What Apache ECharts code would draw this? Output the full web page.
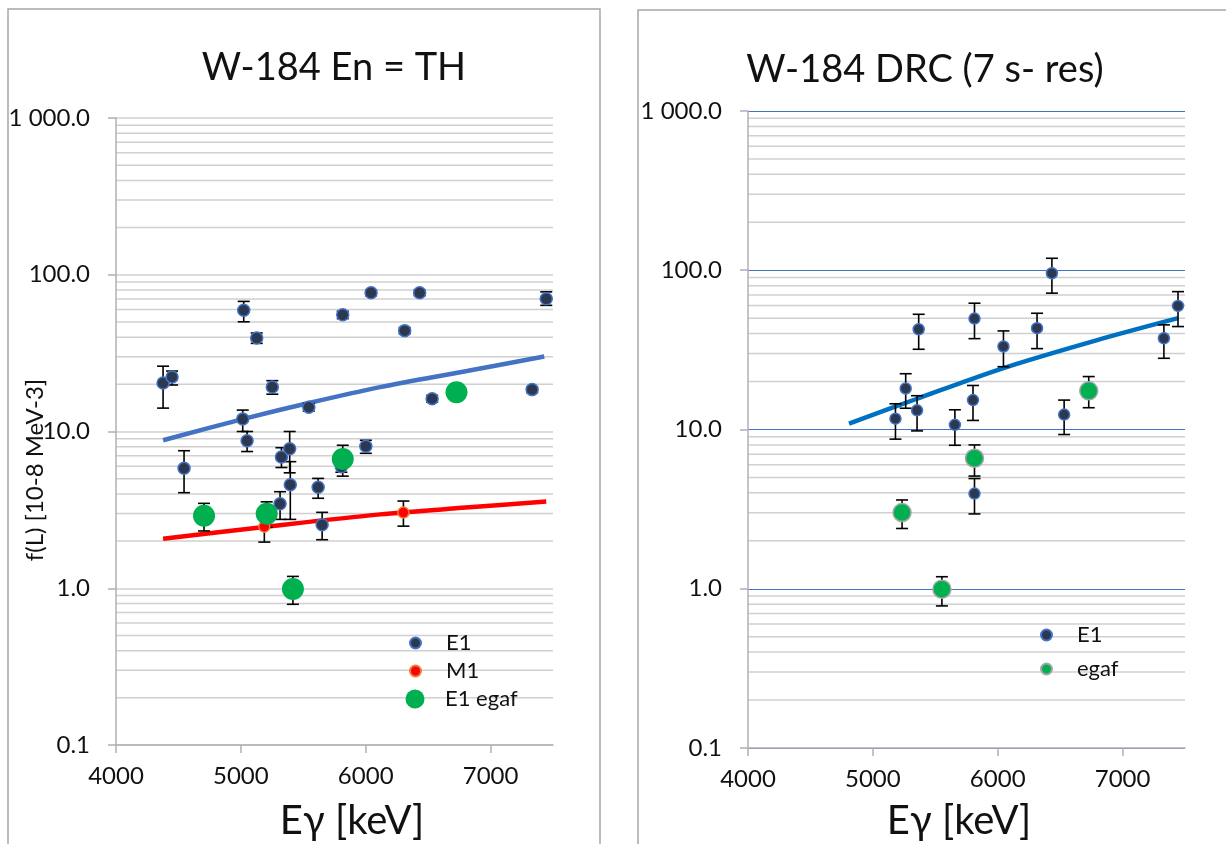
<!DOCTYPE html>
<html>
<head>
<meta charset="utf-8">
<script src="https://cdn.jsdelivr.net/npm/echarts@6/dist/echarts.min.js"></script>
<style>
html,body{margin:0;padding:0;background:#fff;}
#chart{width:1226px;height:844px;}
</style>
</head>
<body>
<div id="chart"></div>
<script>
// ---------- DATA ----------
// Left panel: W-184 En = TH   [Eγ keV, f(L), errLow, errHigh]
const thE1 = [
  [4377, 20.4, 14.1, 26.1],
  [4449, 22.3, 19.8, 24.3],
  [4545, 5.82, 4.07, 7.54],
  [5015, 12.0, 10.0, 13.7],
  [5023, 59.3, 50.1, 67.6],
  [5050, 8.74, 7.45, 10.0],
  [5127, 39.5, 36.5, 42.5],
  [5252, 19.2, 17.3, 21.1],
  [5314, 3.46, 2.75, 4.13],
  [5325, 6.88, 5.89, 7.88],
  [5391, 7.77, 5.45, 10.0],
  [5396, 4.58, 2.75, 6.42],
  [5544, 14.3, 13.5, 15.1],
  [5619, 4.41, 3.75, 5.02],
  [5651, 2.54, 2.04, 3.05],
  [5805, 5.95, 5.5, 6.4],
  [5816, 55.6, 52.5, 58.5],
  [6001, 8.05, 7.26, 8.79],
  [6043, 76.7, 73.5, 80.0],
  [6312, 44.0, 42.0, 46.0],
  [6432, 76.7, 73.5, 80.0],
  [6532, 16.2, 15.4, 17.0],
  [7333, 18.5, 17.7, 19.3],
  [7446, 70.3, 63.8, 77.8]
];
const thM1 = [
  [5188, 2.47, 1.97, 2.97],
  [6302, 3.04, 2.49, 3.60]
];
const thEgaf = [
  [4705, 2.90, 2.32, 3.48],
  [5207, 2.99, 2.45, 3.56],
  [5417, 0.99, 0.79, 1.19],
  [5816, 6.67, 5.19, 8.17],
  [6727, 17.8, 17.8, 17.8]
];
const thE1Curve = [[4377, 8.8], [5015, 12.0], [5544, 15.2], [6115, 19.2], [6810, 24.3], [7430, 30.1]];
const thM1Curve = [[4377, 2.07], [5188, 2.46], [6115, 2.96], [6800, 3.27], [7446, 3.58]];

// Right panel: W-184 DRC (7 s- res)
const drcE1 = [
  [5181, 11.7, 8.7, 14.5],
  [5263, 18.1, 13.6, 22.4],
  [5354, 13.2, 9.8, 16.3],
  [5367, 42.6, 31.9, 52.9],
  [5657, 10.7, 7.96, 13.3],
  [5802, 15.3, 11.4, 18.9],
  [5814, 49.7, 37.2, 62.1],
  [5814, 3.96, 2.95, 4.92],
  [6046, 33.2, 24.8, 41.6],
  [6315, 43.3, 32.2, 53.7],
  [6434, 95.8, 71.8, 118.9],
  [6532, 12.4, 9.3, 15.3],
  [7331, 37.4, 28.0, 45.4],
  [7444, 59.7, 44.3, 73.4]
];
const drcEgaf = [
  [5234, 3.01, 2.39, 3.61],
  [5553, 0.994, 0.78, 1.19],
  [5814, 6.6, 5.1, 8.0],
  [6729, 17.5, 13.7, 21.5]
];
const drcCurve = [[4809, 10.9], [5354, 15.6], [6046, 24.3], [6790, 36.3], [7444, 50.0]];

const xTicks = [4000, 5000, 6000, 7000];
const X_MIN = 4000, X_MAX = 7500, Y_MIN = 0.1, Y_MAX = 1000;

// ---------- HELPERS ----------
const FONT = 'Lato';
const minorVals = [];
[0.1, 1, 10, 100].forEach(d => { for (let k = 2; k <= 9; k++) minorVals.push([X_MIN, +(k * d).toPrecision(3)]); });

function minorRender(params, api) {
  const v = api.value(1);
  const a = api.coord([X_MIN, v]), b = api.coord([X_MAX, v]);
  return { type: 'line', shape: { x1: a[0], y1: a[1], x2: b[0], y2: b[1] },
           style: { stroke: '#d0d0d0', lineWidth: 1.5 }, silent: true };
}
function errRender(params, api) {
  const x = api.value(0), lo = api.value(2), hi = api.value(3);
  if (lo === hi) return null;
  const p1 = api.coord([x, lo]), p2 = api.coord([x, hi]);
  const c = 6;
  const st = { stroke: '#000', lineWidth: 1.6 };
  return { type: 'group', children: [
    { type: 'line', shape: { x1: p1[0], y1: p1[1], x2: p2[0], y2: p2[1] }, style: st },
    { type: 'line', shape: { x1: p1[0] - c, y1: p1[1], x2: p1[0] + c, y2: p1[1] }, style: st },
    { type: 'line', shape: { x1: p2[0] - c, y1: p2[1], x2: p2[0] + c, y2: p2[1] }, style: st }
  ] };
}
function xAxisCfg(gi) {
  return {
    gridIndex: gi, type: 'value', min: X_MIN, max: X_MAX, interval: 1000,
    axisLine: { show: true, lineStyle: { color: '#b0b0b0', width: 1.5 } },
    axisTick: { show: true, length: 8, inside: false, customValues: xTicks, lineStyle: { color: '#b0b0b0', width: 1.5 } },
    axisLabel: { customValues: xTicks, color: '#111', fontFamily: FONT, fontSize: 24, margin: 19, formatter: v => String(v) },
    splitLine: { show: false }
  };
}
function yAxisCfg(gi, majorColor, majorWidth) {
  return {
    gridIndex: gi, type: 'log', logBase: 10, min: Y_MIN, max: Y_MAX,
    axisLine: { show: true, onZero: false, lineStyle: { color: '#b0b0b0', width: 1.5 } },
    axisTick: { show: true, length: 8, lineStyle: { color: '#b0b0b0', width: 1.5 } },
    axisLabel: { color: '#111', fontFamily: FONT, fontSize: 24, margin: 26,
      formatter: v => v >= 999 ? '1 000.0' : (+v).toFixed(1) },
    splitLine: { show: true, lineStyle: { color: majorColor, width: majorWidth } }
  };
}
const e1Style = { color: '#2C3850', borderColor: '#4472C4', borderWidth: 1.5, opacity: 1 };
const egafStyleL = { color: '#00B050', borderColor: '#00B050', borderWidth: 0, opacity: 1 };
const egafStyleR = { color: '#00B050', borderColor: '#A6A6A6', borderWidth: 1.5, opacity: 1 };
const m1Style = { color: '#FF0000', borderColor: '#ED7D31', borderWidth: 1.5, opacity: 1 };

function legendItem(name, left, cy, size, pad) {
  return { show: true, orient: 'vertical', left: left, top: cy - 11, padding: 0,
    itemWidth: size, itemHeight: size, icon: 'circle', data: [name],
    textStyle: { fontFamily: FONT, fontSize: 22, color: '#111', lineHeight: 22, padding: [0, 0, 0, pad] } };
}

const option = {
  animation: false,
  backgroundColor: '#fff',
  grid: [
    { left: 116, top: 118, width: 437, height: 627 },
    { left: 748, top: 111, width: 437, height: 637 }
  ],
  xAxis: [xAxisCfg(0), xAxisCfg(1)],
  yAxis: [yAxisCfg(0, '#d0d0d0', 1.5), yAxisCfg(1, '#4472C4', 1.2)],
  legend: [
    legendItem('E1', 409, 643, 11, 20),
    legendItem('M1', 409, 671, 11, 20),
    legendItem('E1 egaf', 405.5, 699, 19, 15.5),
    legendItem('E1', 1040, 635, 11, 20),
    legendItem('egaf', 1040, 669, 11, 20)
  ],
  graphic: [
    { type: 'rect', shape: { x: 8, y: 9, width: 592, height: 900 }, style: { fill: 'none', stroke: '#a6a6a6', lineWidth: 1.5 }, z: -10 },
    { type: 'rect', shape: { x: 638, y: 10, width: 620, height: 900 }, style: { fill: 'none', stroke: '#a6a6a6', lineWidth: 1.5 }, z: -10 },
    { type: 'text', x: 334, y: 68, style: { text: 'W-184 En = TH', fontFamily: FONT, fontSize: 38, fill: '#111', align: 'center', verticalAlign: 'middle' } },
    { type: 'text', x: 925, y: 70, style: { text: 'W-184 DRC (7 s- res)', fontFamily: FONT, fontSize: 38, fill: '#111', align: 'center', verticalAlign: 'middle' } },
    { type: 'text', x: 352, y: 821, style: { text: 'Eγ [keV]', fontFamily: FONT, fontSize: 40, fill: '#111', align: 'center', verticalAlign: 'middle' } },
    { type: 'text', x: 959, y: 821, style: { text: 'Eγ [keV]', fontFamily: FONT, fontSize: 40, fill: '#111', align: 'center', verticalAlign: 'middle' } },
    { type: 'text', x: 35, y: 470, rotation: Math.PI / 2, style: { text: 'f(L) [10-8 MeV-3]', fontFamily: FONT, fontSize: 24, fill: '#111', align: 'center', verticalAlign: 'middle' } }
  ],
  series: [
    // minor grid lines
    { type: 'custom', name: 'minorL', xAxisIndex: 0, yAxisIndex: 0, data: minorVals, renderItem: minorRender, encode: { x: 0, y: 1 }, silent: true, z: 0 },
    { type: 'custom', name: 'minorR', xAxisIndex: 1, yAxisIndex: 1, data: minorVals, renderItem: minorRender, encode: { x: 0, y: 1 }, silent: true, z: 0 },
    // trend curves
    { type: 'line', name: 'fitE1L', xAxisIndex: 0, yAxisIndex: 0, data: thE1Curve, smooth: 0.3, showSymbol: false, lineStyle: { color: '#4472C4', width: 4.5 }, z: 2 },
    { type: 'line', name: 'fitM1L', xAxisIndex: 0, yAxisIndex: 0, data: thM1Curve, smooth: 0.3, showSymbol: false, lineStyle: { color: '#FF0000', width: 4.5 }, z: 2 },
    { type: 'line', name: 'fitE1R', xAxisIndex: 1, yAxisIndex: 1, data: drcCurve, smooth: 0.3, showSymbol: false, lineStyle: { color: '#0070C0', width: 4.5 }, z: 2 },
    // error bars
    { type: 'custom', name: 'errE1L', xAxisIndex: 0, yAxisIndex: 0, data: thE1, renderItem: errRender, encode: { x: 0, y: [2, 3] }, z: 3 },
    { type: 'custom', name: 'errM1L', xAxisIndex: 0, yAxisIndex: 0, data: thM1, renderItem: errRender, encode: { x: 0, y: [2, 3] }, z: 3 },
    { type: 'custom', name: 'errEgafL', xAxisIndex: 0, yAxisIndex: 0, data: thEgaf, renderItem: errRender, encode: { x: 0, y: [2, 3] }, z: 3 },
    { type: 'custom', name: 'errE1R', xAxisIndex: 1, yAxisIndex: 1, data: drcE1, renderItem: errRender, encode: { x: 0, y: [2, 3] }, z: 3 },
    { type: 'custom', name: 'errEgafR', xAxisIndex: 1, yAxisIndex: 1, data: drcEgaf, renderItem: errRender, encode: { x: 0, y: [2, 3] }, z: 3 },
    // markers
    { type: 'scatter', name: 'E1', xAxisIndex: 0, yAxisIndex: 0, data: thE1, encode: { x: 0, y: 1 }, symbol: 'circle', symbolSize: 12, itemStyle: e1Style, z: 10 },
    { type: 'scatter', name: 'M1', xAxisIndex: 0, yAxisIndex: 0, data: thM1, encode: { x: 0, y: 1 }, symbol: 'circle', symbolSize: 11, itemStyle: m1Style, z: 11 },
    { type: 'scatter', name: 'E1 egaf', xAxisIndex: 0, yAxisIndex: 0, data: thEgaf, encode: { x: 0, y: 1 }, symbol: 'circle', symbolSize: 22, itemStyle: egafStyleL, z: 12 },
    { type: 'scatter', name: 'E1', xAxisIndex: 1, yAxisIndex: 1, data: drcE1, encode: { x: 0, y: 1 }, symbol: 'circle', symbolSize: 11, itemStyle: e1Style, z: 10 },
    { type: 'scatter', name: 'egaf', xAxisIndex: 1, yAxisIndex: 1, data: drcEgaf, encode: { x: 0, y: 1 }, symbol: 'circle', symbolSize: 18, itemStyle: egafStyleR, z: 12 }
  ]
};
const chart = echarts.init(document.getElementById('chart'), null, { renderer: 'canvas' });
chart.setOption(option);
</script>
</body>
</html>
